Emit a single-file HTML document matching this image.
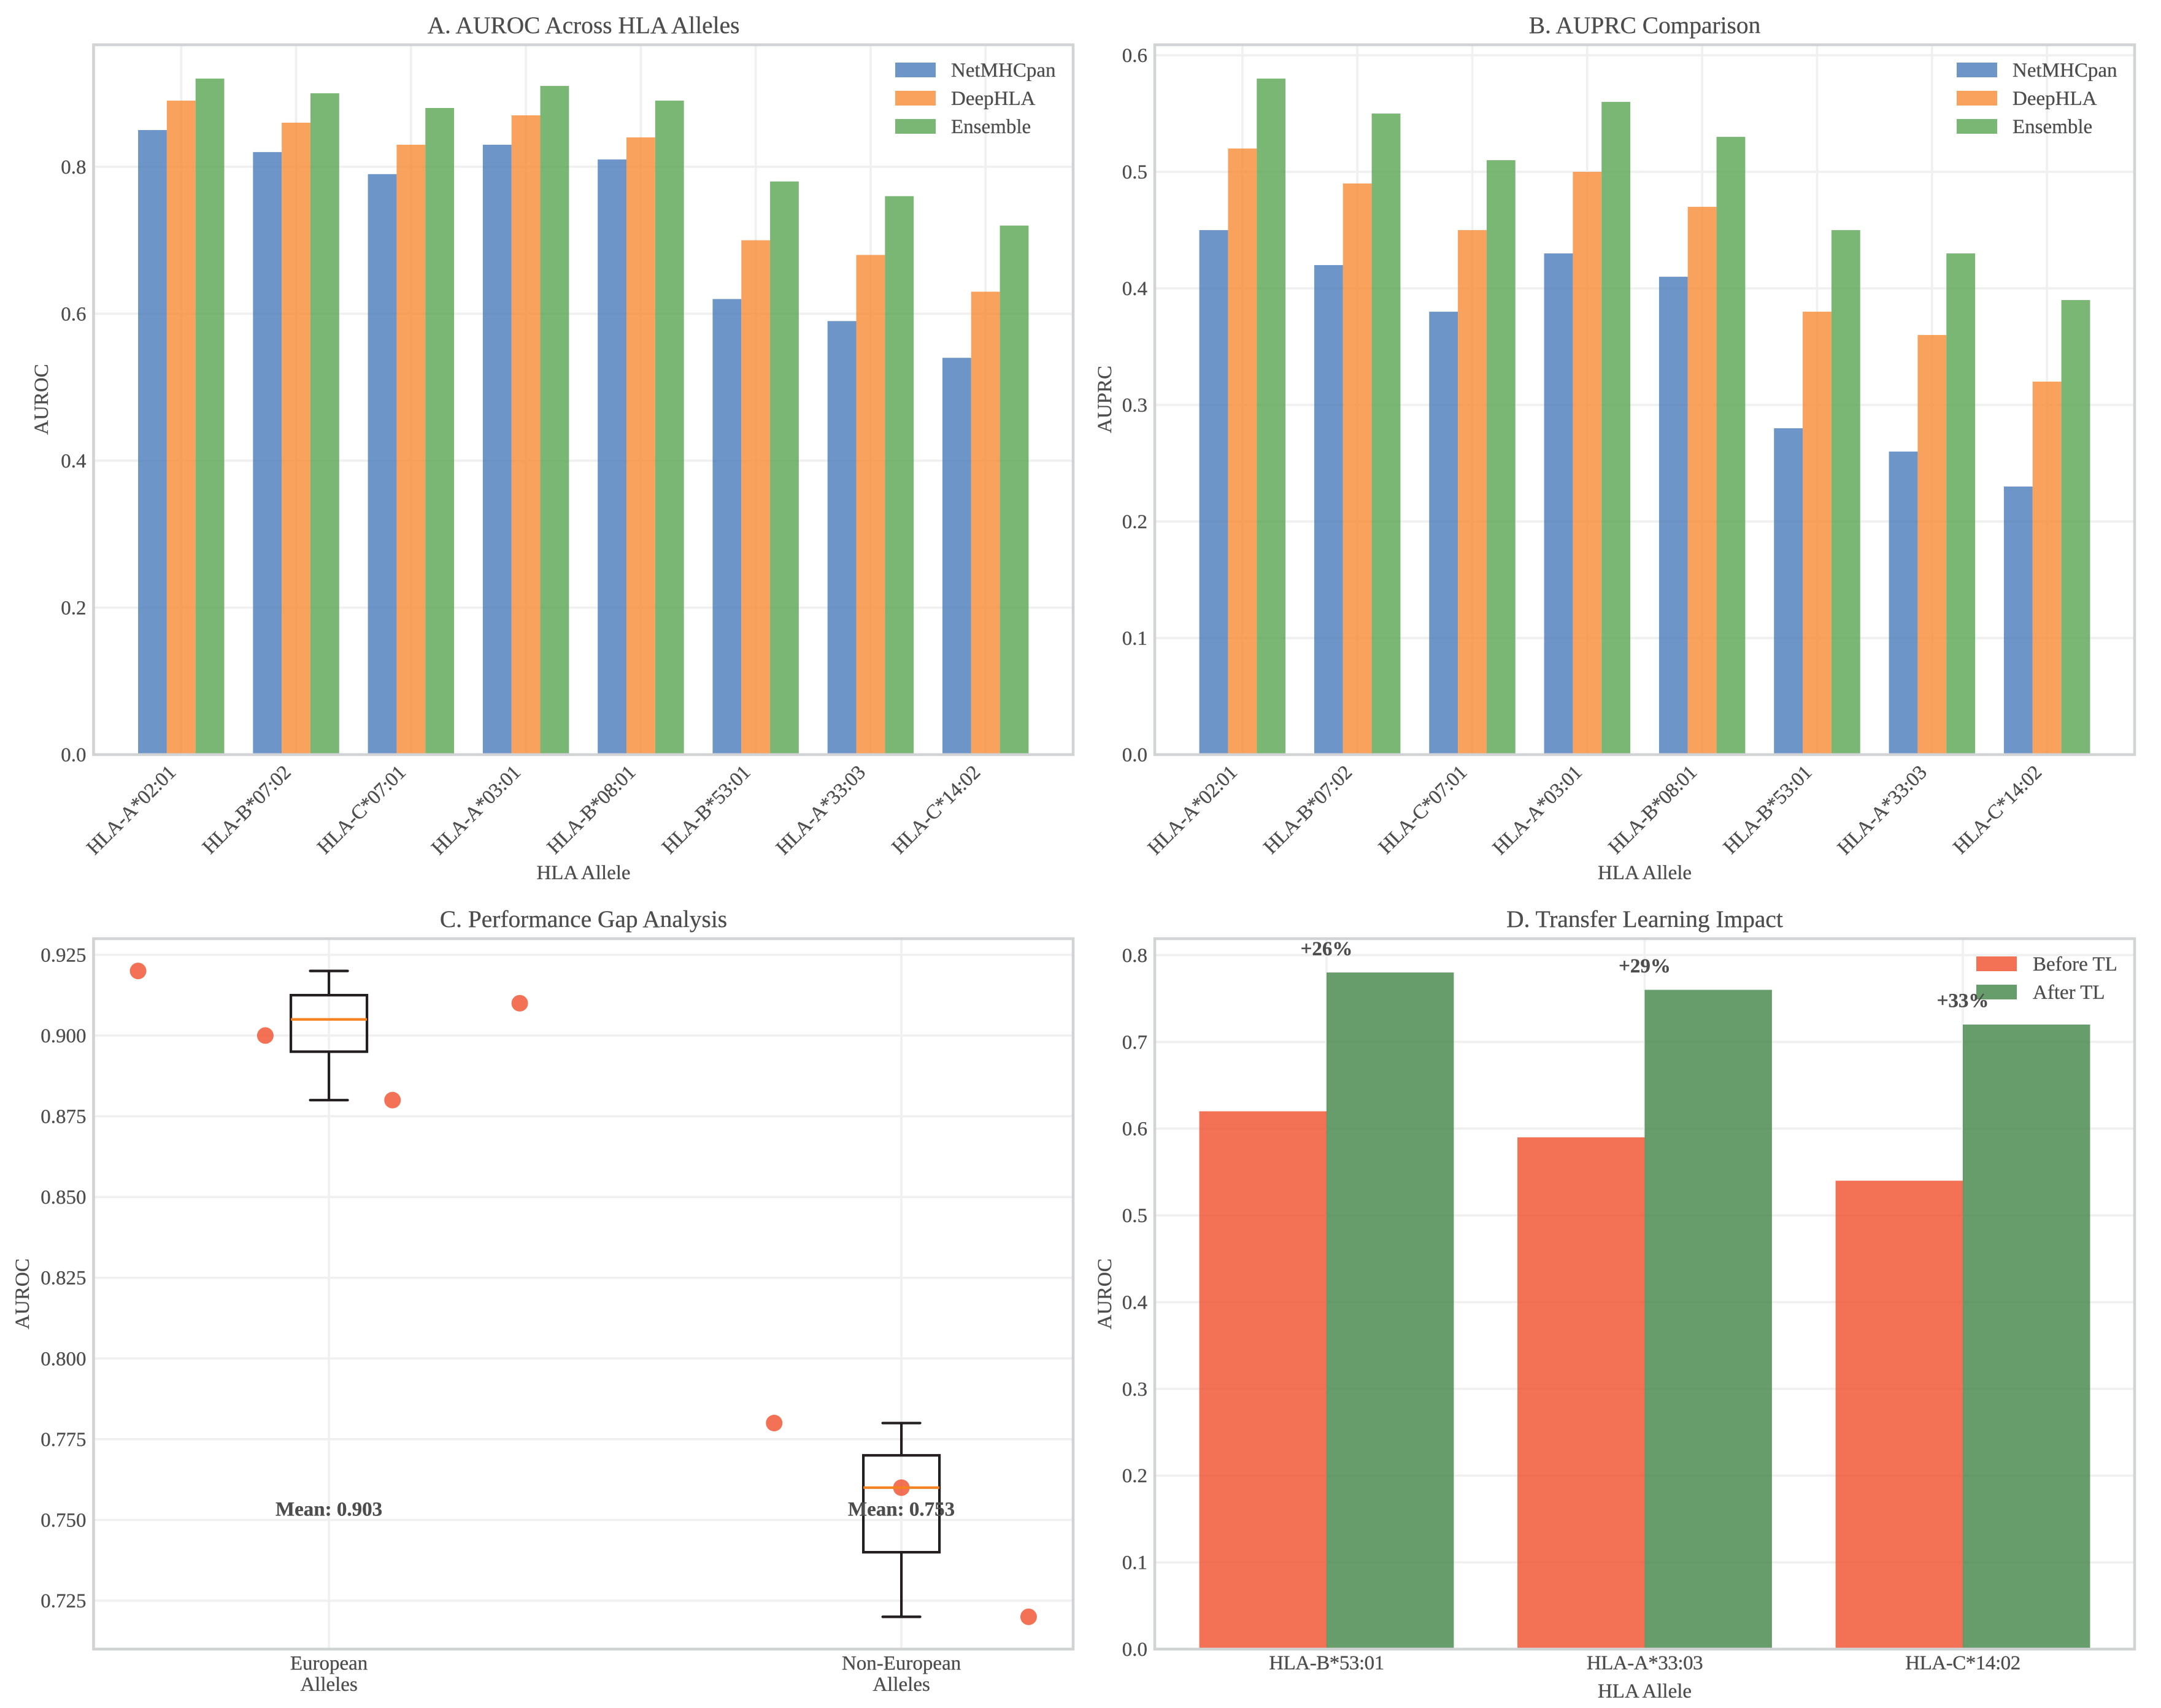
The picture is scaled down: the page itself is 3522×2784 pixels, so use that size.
<!DOCTYPE html>
<html lang="en">
<head>
<meta charset="utf-8">
<title>HLA Allele Performance Comparison</title>
<style>
html,body{margin:0;padding:0;background:#fff;}
svg{display:block;}
text{font-family:"Liberation Serif","Times New Roman",serif;fill:#4d4d4d;stroke:#4d4d4d;stroke-width:0.3px;}
.title{font-size:39.4px;text-anchor:middle;}
.axis{font-size:33px;text-anchor:middle;}
</style>
</head>
<body>
<svg id="figure" xmlns="http://www.w3.org/2000/svg" width="3522" height="2784" viewBox="0 0 3522 2784">
  <rect x="0" y="0" width="3522" height="2784" fill="#ffffff"/>
  <g id="panel-a"></g>
  <g id="panel-b"></g>
  <g id="panel-c"></g>
  <g id="panel-d"></g>
  <text class="title" x="951" y="54">A. AUROC Across HLA Alleles</text>
  <text class="title" x="2680.5" y="54">B. AUPRC Comparison</text>
  <text class="title" x="951" y="1511">C. Performance Gap Analysis</text>
  <text class="title" x="2680.5" y="1511">D. Transfer Learning Impact</text>
  <text class="axis" x="951" y="1433">HLA Allele</text>
  <text class="axis" x="2680.5" y="1433">HLA Allele</text>
  <text class="axis" x="2680.5" y="2767">HLA Allele</text>
  <text class="axis" transform="translate(78,651) rotate(-90)">AUROC</text>
  <text class="axis" transform="translate(1811,651) rotate(-90)">AUPRC</text>
  <text class="axis" transform="translate(47,2109) rotate(-90)">AUROC</text>
  <text class="axis" transform="translate(1811,2109) rotate(-90)">AUROC</text>
</svg>
<script>
// ---- chart data ----
const alleles = ["HLA-A*02:01","HLA-B*07:02","HLA-C*07:01","HLA-A*03:01","HLA-B*08:01","HLA-B*53:01","HLA-A*33:03","HLA-C*14:02"];
const methodNames = ["NetMHCpan","DeepHLA","Ensemble"];
const aurocNetMHCpan = [0.85,0.82,0.79,0.83,0.81,0.62,0.59,0.54];
const aurocDeepHLA = [0.89,0.86,0.83,0.87,0.84,0.70,0.68,0.63];
const aurocEnsemble = [0.92,0.90,0.88,0.91,0.89,0.78,0.76,0.72];
const auprcNetMHCpan = [0.45,0.42,0.38,0.43,0.41,0.28,0.26,0.23];
const auprcDeepHLA = [0.52,0.49,0.45,0.50,0.47,0.38,0.36,0.32];
const auprcEnsemble = [0.58,0.55,0.51,0.56,0.53,0.45,0.43,0.39];
const aurocTicks = ["0.0","0.2","0.4","0.6","0.8"];
const auprcTicks = ["0.0","0.1","0.2","0.3","0.4","0.5","0.6"];
const gapCategories = [["European","Alleles"],["Non-European","Alleles"]];
const europeanAuroc = [0.92,0.90,0.88,0.91];
const nonEuropeanAuroc = [0.78,0.76,0.72];
const gapMeanLabels = ["Mean: 0.903","Mean: 0.753"];
const gapMeanLabelLevel = [0.75,0.75];
const gapTicks = ["0.725","0.750","0.775","0.800","0.825","0.850","0.875","0.900","0.925"];
const tlAlleles = ["HLA-B*53:01","HLA-A*33:03","HLA-C*14:02"];
const tlSeriesNames = ["Before TL","After TL"];
const tlBefore = [0.62,0.59,0.54];
const tlAfter = [0.78,0.76,0.72];
const tlTicks = ["0.0","0.1","0.2","0.3","0.4","0.5","0.6","0.7","0.8"];

// ---- styling ----
const NS = "http://www.w3.org/2000/svg";
const methodColors = ["#4a7ab9","#f78b34","#59a553"];
const tlColors = ["#f04e2a","#418346"];
const BAR_ALPHA = 0.8;
const GRID = "#f0f0f0", SPINE = "#d1d3d4", INK = "#231f20", MEDIAN = "#f58220";

function el(parent, tag, attrs, text) {
  const node = document.createElementNS(NS, tag);
  for (const k in attrs) node.setAttribute(k, attrs[k]);
  if (text !== undefined) node.textContent = text;
  parent.appendChild(node);
  return node;
}
function linear(d0, d1, r0, r1) {
  return v => r0 + (v - d0) / (d1 - d0) * (r1 - r0);
}
function gridV(g, x, box) {
  const line = el(g, "line", {x1:x, x2:x, y1:box.top, y2:box.bottom, stroke:GRID, "stroke-width":3.7});
  
  
}
function gridH(g, y, box) {
  const line = el(g, "line", {x1:box.left, x2:box.right, y1:y, y2:y, stroke:GRID, "stroke-width":3.7});
  
  
}
function yTickLabels(g, ticks, yScale, box) {
  ticks.forEach(t => {
    const label = el(g, "text", {x:box.left-12, y:yScale(parseFloat(t))+11, "text-anchor":"end", "font-size":33}, t);
    
    
  });
}
function spines(g, box) {
  const frame = el(g, "rect", {x:box.left, y:box.top, width:box.right-box.left, height:box.bottom-box.top, fill:"none", stroke:SPINE, "stroke-width":4.6});
  
  
}
function legend(g, names, colors, px, tx, baselines) {
  names.forEach((n, i) => {
    const swatch = el(g, "rect", {x:px, y:baselines[i]-23, width:66, height:24, fill:colors[i], "fill-opacity":BAR_ALPHA});
    
    
    const label = el(g, "text", {x:tx, y:baselines[i], "font-size":33}, n);
    
    
  });
}

// Grouped bar panels A and B
function groupedBars(id, box, series, ticks) {
  const g = document.getElementById(id);
  const barW = 0.25;
  const n = alleles.length;
  const lo = -1.5 * barW, hi = n - 1 + 1.5 * barW, pad = (hi - lo) * 0.05;
  const x = linear(lo - pad, hi + pad, box.left, box.right);
  const ymax = Math.max(...series.flat()) * 1.05;
  const y = linear(0, ymax, box.bottom, box.top);
  alleles.forEach((_, i) => gridV(g, x(i), box));
  ticks.forEach(t => gridH(g, y(parseFloat(t)), box));
  series.forEach((vals, s) => {
    vals.forEach((v, i) => {
      const x0 = x(i + (s - 1) * barW - barW / 2), x1 = x(i + (s - 1) * barW + barW / 2);
      const bar = el(g, "rect", {x:x0, y:y(v), width:x1-x0, height:y(0)-y(v), fill:methodColors[s], "fill-opacity":BAR_ALPHA});
      
      
    });
  });
  spines(g, box);
  yTickLabels(g, ticks, y, box);
  alleles.forEach((a, i) => {
    const px = x(i) - 7, py = box.bottom + 31;
    const label = el(g, "text", {x:px, y:py, "text-anchor":"end", "font-size":33, "letter-spacing":"-0.45px", transform:"rotate(-45 "+px+" "+py+")"}, a);
    
    
  });
  legend(g, methodNames, methodColors, box.right - 290, box.right - 199, [125, 171, 217]);
}

// Panel C: box plots plus strip points
function quantile(sorted, q) {
  const p = (sorted.length - 1) * q, f = Math.floor(p), c = Math.ceil(p);
  return sorted[f] + (sorted[c] - sorted[f]) * (p - f);
}
function gapPanel(id, box) {
  const g = document.getElementById(id);
  const groups = [europeanAuroc, nonEuropeanAuroc];
  const step = 2 / 9;
  const pts = [];
  groups.forEach((vals, k) => vals.forEach((v, i) => pts.push({x: k + 1 + (i - (vals.length - 1) / 2) * step, v})));
  const xs = pts.map(p => p.x), vs = pts.map(p => p.v);
  const xMin = Math.min(...xs), xMax = Math.max(...xs), xPad = (xMax - xMin) * 0.05;
  const yMin = Math.min(...vs), yMax = Math.max(...vs), yPad = (yMax - yMin) * 0.05;
  const x = linear(xMin - xPad, xMax + xPad, box.left, box.right);
  const y = linear(yMin - yPad, yMax + yPad, box.bottom, box.top);
  groups.forEach((_, k) => gridV(g, x(k + 1), box));
  gapTicks.forEach(t => gridH(g, y(parseFloat(t)), box));
  pts.forEach(p => {
    const dot = el(g, "circle", {cx:x(p.x), cy:y(p.v), r:13.5, fill:tlColors[0], "fill-opacity":BAR_ALPHA});
    
    
  });
  groups.forEach((vals, k) => {
    const s = [...vals].sort((a, b) => a - b);
    const q1 = quantile(s, 0.25), med = quantile(s, 0.5), q3 = quantile(s, 0.75);
    const cx = x(k + 1), hw = 62, cw = 30.5;
    const wLow = el(g, "line", {x1:cx, x2:cx, y1:y(q1), y2:y(s[0]), stroke:INK, "stroke-width":4.2});
    
    
    const wHigh = el(g, "line", {x1:cx, x2:cx, y1:y(q3), y2:y(s[s.length-1]), stroke:INK, "stroke-width":4.2});
    
    
    const capLow = el(g, "line", {x1:cx-cw, x2:cx+cw, y1:y(s[0]), y2:y(s[0]), stroke:INK, "stroke-width":4.2, "stroke-linecap":"round"});
    
    
    const capHigh = el(g, "line", {x1:cx-cw, x2:cx+cw, y1:y(s[s.length-1]), y2:y(s[s.length-1]), stroke:INK, "stroke-width":4.2, "stroke-linecap":"round"});
    
    
    const rect = el(g, "rect", {x:cx-hw, y:y(q3), width:2*hw, height:y(q1)-y(q3), fill:"none", stroke:INK, "stroke-width":4.2});
    
    
    const mid = el(g, "line", {x1:cx-hw, x2:cx+hw, y1:y(med), y2:y(med), stroke:MEDIAN, "stroke-width":4.2});
    
    
  });
  spines(g, box);
  yTickLabels(g, gapTicks, y, box);
  gapCategories.forEach((lines, k) => {
    lines.forEach((t, j) => {
      const label = el(g, "text", {x:x(k + 1), y:2721.5 + j * 34.5, "text-anchor":"middle", "font-size":33}, t);
      
      
    });
    const mean = el(g, "text", {x:x(k + 1), y:y(gapMeanLabelLevel[k]) - 7, "text-anchor":"middle", "font-size":33, "font-weight":"bold"}, gapMeanLabels[k]);
    
    
  });
}

// Panel D: before/after bars
function tlPanel(id, box) {
  const g = document.getElementById(id);
  const w = 0.4, n = tlAlleles.length;
  const lo = -w, hi = n - 1 + w, pad = (hi - lo) * 0.05;
  const x = linear(lo - pad, hi + pad, box.left, box.right);
  const ymax = Math.max(...tlAfter, ...tlBefore) * 1.05;
  const y = linear(0, ymax, box.bottom, box.top);
  tlAlleles.forEach((_, i) => gridV(g, x(i), box));
  tlTicks.forEach(t => gridH(g, y(parseFloat(t)), box));
  [tlBefore, tlAfter].forEach((vals, s) => {
    vals.forEach((v, i) => {
      const x0 = x(i + (s - 1) * w), x1 = x(i + s * w);
      const bar = el(g, "rect", {x:x0, y:y(v), width:x1-x0, height:y(0)-y(v), fill:tlColors[s], "fill-opacity":BAR_ALPHA});
      
      
    });
  });
  spines(g, box);
  yTickLabels(g, tlTicks, y, box);
  tlAlleles.forEach((a, i) => {
    const label = el(g, "text", {x:x(i), y:box.bottom + 33, "text-anchor":"middle", "font-size":33, "letter-spacing":"-0.45px"}, a);
    
    
  });
  legend(g, tlSeriesNames, tlColors, box.right - 258, box.right - 166, [1582, 1628]);
  tlAlleles.forEach((_, i) => {
    const pct = Math.round((tlAfter[i] - tlBefore[i]) / tlBefore[i] * 100);
    const label = el(g, "text", {x:x(i), y:y(tlAfter[i] + 0.02), "text-anchor":"middle", "font-size":33, "font-weight":"bold"}, "+" + pct + "%");
    
    
  });
}

groupedBars("panel-a", {left:152.5, right:1749, top:73, bottom:1230}, [aurocNetMHCpan, aurocDeepHLA, aurocEnsemble], aurocTicks);
groupedBars("panel-b", {left:1882, right:3479, top:73, bottom:1230}, [auprcNetMHCpan, auprcDeepHLA, auprcEnsemble], auprcTicks);
gapPanel("panel-c", {left:152.5, right:1749, top:1530, bottom:2688});
tlPanel("panel-d", {left:1882, right:3479, top:1530, bottom:2688});
</script>
</body>
</html>
